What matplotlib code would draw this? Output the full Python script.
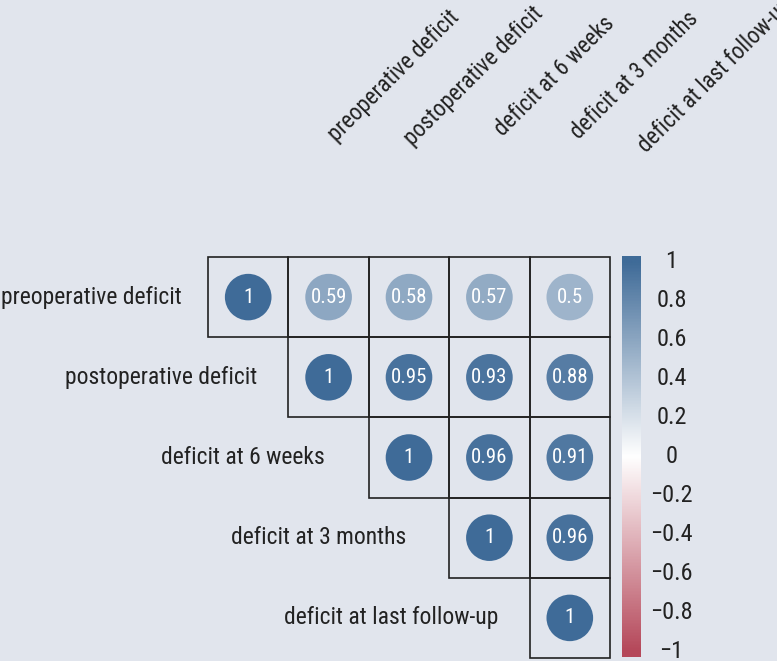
import numpy as np
import matplotlib
matplotlib.use("Agg")
import matplotlib.pyplot as plt
from matplotlib.colors import LinearSegmentedColormap
from matplotlib.patches import Rectangle, Circle

labels = ["preoperative deficit", "postoperative deficit", "deficit at 6 weeks",
          "deficit at 3 months", "deficit at last follow-up"]

# upper triangle of the correlation matrix, row by row
corr_rows = [
    [1, 0.59, 0.58, 0.57, 0.5],
    [1, 0.95, 0.93, 0.88],
    [1, 0.96, 0.91],
    [1, 0.96],
    [1],
]
cbar_ticks = [1, 0.8, 0.6, 0.4, 0.2, 0, -0.2, -0.4, -0.6, -0.8, -1]

bg = "#E1E5ED"
cmap = LinearSegmentedColormap.from_list(
    "rwb", [(0.0, "#B5485A"), (0.5, "#FFFFFF"), (1.0, "#3F6B98")])

plt.rcParams["font.family"] = ["Roboto Condensed", "DejaVu Sans"]
ink = "#222222"
# gap between each row label and its first cell (in cell widths)
label_gap = [0.33, 0.39, 0.55, 0.54, 0.39]

fig = plt.figure(figsize=(7.77, 6.61), dpi=100, facecolor=bg)
ax = fig.add_axes([208 / 777, 3 / 661, 402 / 777, 401 / 661])
ax.set_facecolor(bg)
ax.set_xlim(-0.5, 4.5)
ax.set_ylim(4.5, -0.5)
ax.axis("off")

n = len(labels)
for i, row in enumerate(corr_rows):
    for k, r in enumerate(row):
        j = i + k
        ax.add_patch(Rectangle((j - 0.5, i - 0.5), 1, 1, facecolor="none",
                               edgecolor=ink, lw=1.2, clip_on=False))
        ax.add_patch(Circle((j, i), 0.29, facecolor=cmap((r + 1) / 2),
                            edgecolor="none", clip_on=False))
        ax.text(j, i, f"{r:g}", color="white", ha="center", va="center",
                fontsize=15)
    # row label, left of the diagonal
    ax.text(i - 0.5 - label_gap[i], i, labels[i], ha="right", va="center",
            fontsize=17, color=ink, clip_on=False)

# column labels, rotated above the grid
for j in range(n):
    ax.text(j + 1.81, -2.76, labels[j], rotation=45, rotation_mode="anchor",
            ha="center", va="center", fontsize=16.5, color=ink, clip_on=False)

# colour bar
cax = fig.add_axes([622 / 777, 4 / 661, 19 / 777, 401 / 661])
lim = 1.026
grad = np.linspace(-lim, lim, 400).reshape(-1, 1)
cax.imshow(grad, cmap=cmap, vmin=-1, vmax=1, aspect="auto", origin="lower",
           extent=[0, 1, -lim, lim])
cax.set_ylim(-lim, lim)
cax.axis("off")
for t in cbar_ticks:
    cax.text(2.6, t, f"{t:g}".replace("-", "\u2212"), ha="center", va="center",
             fontsize=17.5, color=ink, clip_on=False)

fig.savefig("out.png", dpi=100, facecolor=bg)
